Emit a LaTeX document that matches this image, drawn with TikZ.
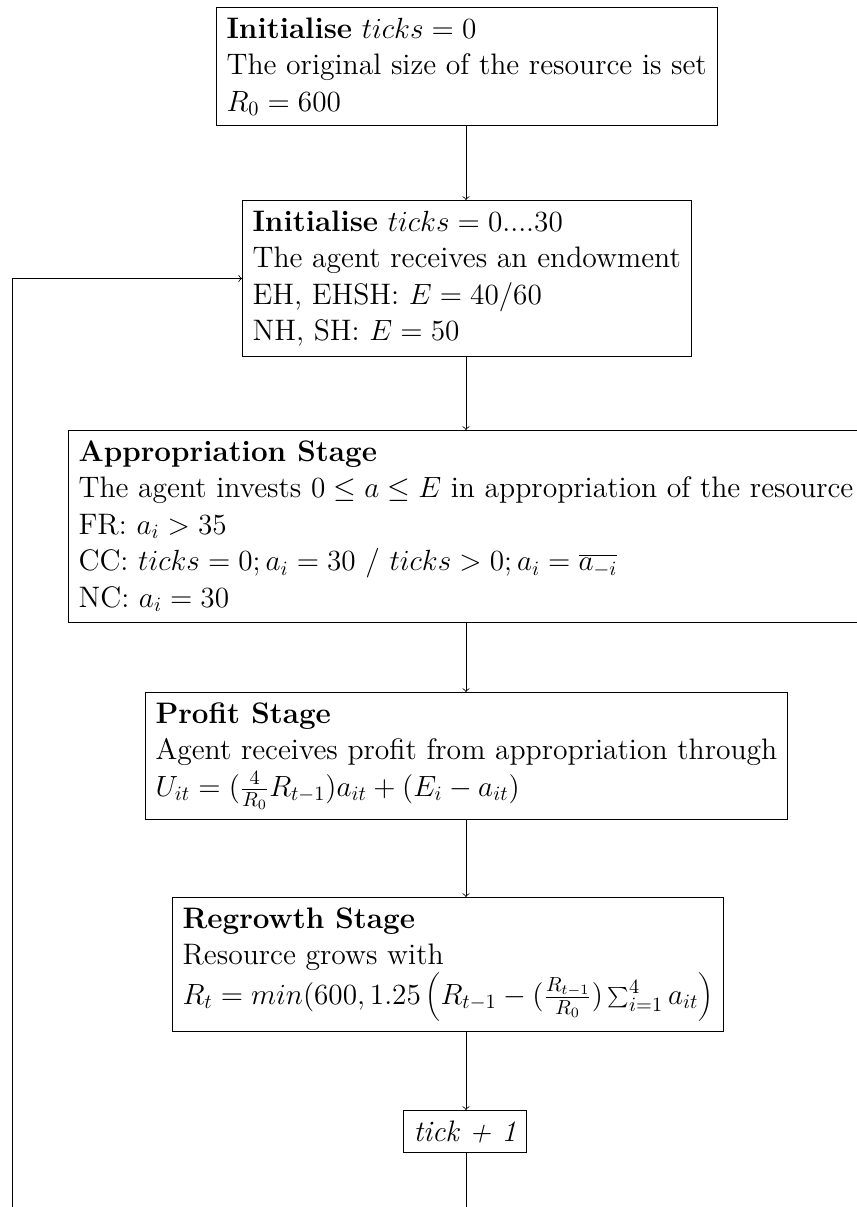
\documentclass[tikz,border=0pt]{standalone}
\usetikzlibrary{arrows}
\usetikzlibrary{positioning}
\tikzstyle{stage} = [rectangle, draw=black, align=left, anchor=north west, inner sep=5pt]
\tikzstyle{arrow} = [->]
\tikzstyle{every node}=[font=\fontsize{14.6}{18}\selectfont]

\begin{document}
\begin{tikzpicture}[x=0.4926pt, y=0.4926pt]
\clip (0,0) rectangle (857,-1207);

\node (init) [stage] at (216,-7) {\textbf{Initialise} $ticks = 0$\\
  The original size of the resource is set\\
  $R_0 = 600$};
\node (endow) [stage] at (242,-200) {\textbf{Initialise} $ticks = 0....30$\\
  The agent receives an endowment\\
  EH, EHSH: $E = 40/60$\\
  NH, SH: $E = 50$};
\node (approp) [stage] at (68,-430) {\textbf{Appropriation Stage}\\
  The agent invests $0 \leq a \leq E$ in appropriation of the resource\\
  FR: $a_i > 35$\\
  CC: $ticks = 0; a_i = 30$ / $ticks > 0; a_i = \overline{a_{-i}}$\\
  NC: $a_i = 30$};
\node (profit) [stage] at (145,-692) {\textbf{Profit Stage}\\
  Agent receives profit from appropriation through\\
  $U_{it} = (\frac{4}{R_0} R_{t-1}) a_{it} + (E_i - a_{it})$};
\node (regrowth) [stage] at (172,-897) {\textbf{Regrowth Stage}\\
  Resource grows with\\
  $R_t = min(600, 1.25 \left(R_{t-1} - (\frac{R_{t-1}}{R_0}) \sum_{i=1}^{4} a_{it}\right)$};
\node (tick) [stage] at (403,-1110) {\textit{tick + 1}};

% main line and the loop back
\coordinate (spine) at (466,0);
\coordinate (back) at (12,-1240);
\draw [arrow] (init.south -| spine) -- (endow.north -| spine);
\draw [arrow] (endow.south -| spine) -- (approp.north -| spine);
\draw [arrow] (approp.south -| spine) -- (profit.north -| spine);
\draw [arrow] (profit.south -| spine) -- (regrowth.north -| spine);
\draw [arrow] (regrowth.south -| spine) -- (tick.north -| spine);
\draw [arrow] (tick.south -| spine) |- (back) |- (endow.west);

\end{tikzpicture}
\end{document}
